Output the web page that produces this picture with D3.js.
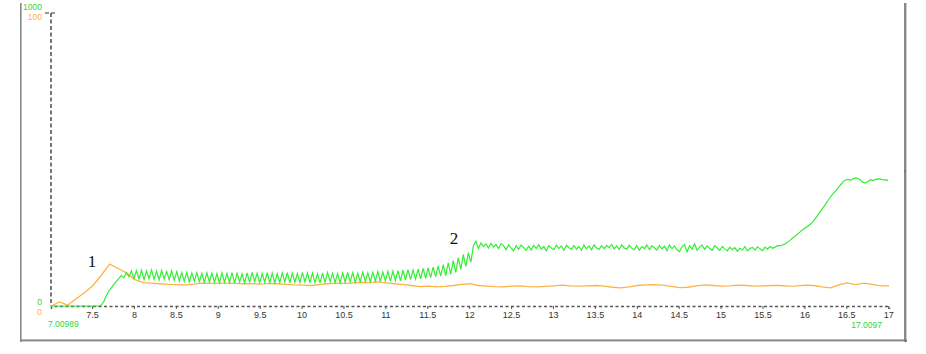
<!DOCTYPE html>
<html><head><meta charset="utf-8">
<script src="https://cdn.jsdelivr.net/npm/d3@7"></script>
<style>html,body{margin:0;padding:0;background:#fff;}svg{display:block;}</style>
</head><body>
<svg id="c" width="926" height="354"></svg>
<script>
const xStart = 7.00989, xEnd = 17.0097;
const xTicks = [7.5,8,8.5,9,9.5,10,10.5,11,11.5,12,12.5,13,13.5,14,14.5,15,15.5,16,16.5,17];
const greenMax = 1000, orangeMax = 100;
const greenStep = 0.03;
const greenValues = [
0,0,0,0,0,0,0,0,0,0,
0,0,0,0,0,0,0,0,0,0,
3,15,35,52,62,74,84,94,104,96,
114,100,120,94,121,92,122,90,120,93,
123,91,119,89,121,92,118,90,120,88,
117,86,114,84,115,82,112,85,114,83,
111,80,113,82,112,81,110,79,113,81,
111,80,114,78,112,82,110,79,113,80,
115,83,112,79,111,81,114,80,112,78,
110,80,113,82,114,79,112,81,111,80,
115,82,113,79,112,80,110,78,113,81,
114,83,112,80,111,79,113,81,115,82,
114,80,112,83,116,84,113,82,115,85,
117,83,116,86,118,85,119,87,121,86,
122,89,124,90,123,92,126,93,128,95,
130,97,133,100,137,102,141,104,147,108,
155,115,165,125,175,135,182,150,205,222,
196,215,203,212,198,214,201,210,196,213,
206,192,209,198,188,206,193,208,199,190,
204,191,207,196,209,194,203,188,206,198,
192,208,196,205,190,207,199,193,206,194,
203,190,208,195,205,192,209,198,193,206,
196,207,199,210,195,205,193,209,198,194,
207,197,192,206,190,203,196,208,193,205,
199,191,206,195,204,189,208,196,205,192,
186,202,210,184,206,194,212,190,201,208,
193,205,196,190,206,198,189,203,195,188,
201,192,199,187,197,191,203,188,196,200,
191,202,195,189,201,194,203,197,201,206,
205,208,212,218,224,232,238,246,253,260,
266,272,279,287,298,310,322,334,346,360,
372,383,392,402,413,423,430,432,429,434,
437,435,430,422,420,425,431,428,432,434,
433,430,431,428
];
const orangeStep = 0.1;
const orangeValues = [
0,1.4,0.3,2.5,4.5,7.0,10.5,14.3,12.8,11.3,
9.0,8.0,7.8,7.6,7.4,7.3,7.1,7.5,7.8,7.7,
7.8,7.8,7.7,7.6,7.6,7.5,7.7,7.6,7.4,7.2,
7.1,7.0,7.3,7.6,7.8,7.7,7.9,8.1,8.0,8.2,
7.9,7.6,7.3,7.0,6.6,6.8,6.5,6.7,7.0,7.4,
7.6,7.0,6.8,6.6,6.5,6.8,6.9,6.6,6.5,6.7,
6.9,7.1,6.9,6.8,6.9,7.0,6.8,6.4,6.2,6.5,
7.0,7.2,7.3,7.1,6.7,6.3,6.4,6.9,7.2,7.0,
6.8,6.9,7.1,7.0,6.8,6.9,7.0,7.0,6.8,6.9,
7.1,7.0,6.5,6.2,7.2,7.9,7.3,7.8,7.4,6.9,6.9
];
const annotations = [{label:"1", x:7.5, v:13.3}, {label:"2", x:11.82, v:21.2}];
const startLabel = "7.00989", endLabel = "17.0097";

const GREEN = "#33ee33", GREEN_TXT = "#2fd82f", ORANGE = "#ffb347";
const FONT = "Liberation Sans, Arial, sans-serif";
const svg = d3.select("#c");
const x = d3.scaleLinear().domain([xStart, xEnd]).range([51, 889]);
const yG = d3.scaleLinear().domain([0, greenMax]).range([306, 13]);
const yO = d3.scaleLinear().domain([0, orangeMax]).range([306, 13]);

// frame
svg.append("rect").attr("x",20).attr("y",3).attr("width",1.6).attr("height",339).attr("fill","#888");
svg.append("rect").attr("x",20).attr("y",339.4).attr("width",887).attr("height",2).attr("fill","#888");
svg.append("rect").attr("x",904).attr("y",3).attr("width",2.4).attr("height",339).attr("fill","#888");
svg.append("rect").attr("x",904.5).attr("y",170.5).attr("width",1.5).attr("height",1.5).attr("fill","#3a6fd8");
svg.append("rect").attr("x",905).attr("y",340).attr("width",1.5).attr("height",1.5).attr("fill","#3a6fd8");

// y axis dashed
svg.append("line").attr("x1",51).attr("x2",51).attr("y1",13).attr("y2",306)
  .attr("stroke","#777").attr("stroke-width",2).attr("stroke-dasharray","4,2.5");
svg.append("line").attr("x1",45).attr("x2",57).attr("y1",13).attr("y2",13)
  .attr("stroke","#777").attr("stroke-width",1.5).attr("stroke-dasharray","4,2");

// x axis
const xAxis = d3.axisBottom(x).tickValues(xTicks).tickSize(3).tickPadding(3)
  .tickFormat(d => String(d));
const gx = svg.append("g").attr("transform","translate(0,306)").call(xAxis);
gx.select(".domain").attr("stroke","#555").attr("stroke-width",1.5).attr("stroke-dasharray","3,2.5");
gx.selectAll(".tick line").attr("stroke","#555");
gx.selectAll(".tick text").attr("fill","#333").attr("font-family",FONT).attr("font-size","9px");

// y labels
const yl = svg.append("g").attr("font-family",FONT).attr("font-size","8.5px").attr("text-anchor","end");
yl.append("text").attr("x",42).attr("y",yG(greenMax)-3.5).attr("fill",GREEN_TXT).text(String(greenMax));
yl.append("text").attr("x",42).attr("y",yO(orangeMax)+6.5).attr("fill",ORANGE).text(String(orangeMax));
yl.append("text").attr("x",42).attr("y",yG(0)-1.5).attr("fill",GREEN_TXT).text("0");
yl.append("text").attr("x",42).attr("y",yO(0)+9).attr("fill",ORANGE).text("0");

svg.append("text").attr("x",x(xStart)-3).attr("y",327).attr("fill",GREEN_TXT)
  .attr("font-family",FONT).attr("font-size","8.5px").text(startLabel);
svg.append("text").attr("x",x(xEnd)-7).attr("y",328).attr("text-anchor","end").attr("fill",GREEN_TXT)
  .attr("font-family",FONT).attr("font-size","8.5px").text(endLabel);

// lines
const orangeData = orangeValues.map((v,i)=>[Math.min(xStart + i*orangeStep, xEnd), v]);
const greenData = greenValues.map((v,i)=>[xStart + i*greenStep, v]);
svg.append("path").datum(orangeData).attr("fill","none").attr("stroke",ORANGE).attr("stroke-width",1.3)
  .attr("d", d3.line().x(d=>x(d[0])).y(d=>yO(d[1])));
svg.append("path").datum(greenData).attr("fill","none").attr("stroke",GREEN).attr("stroke-width",1.2)
  .attr("d", d3.line().x(d=>x(d[0])).y(d=>yG(d[1])));

// annotations
svg.selectAll("text.ann").data(annotations).join("text").attr("class","ann")
  .attr("x",d=>x(d.x)).attr("y",d=>yO(d.v)).attr("text-anchor","middle")
  .attr("font-family","Liberation Serif, Times New Roman, serif").attr("font-size","17px").attr("fill","#111")
  .text(d=>d.label);
</script>
</body></html>
